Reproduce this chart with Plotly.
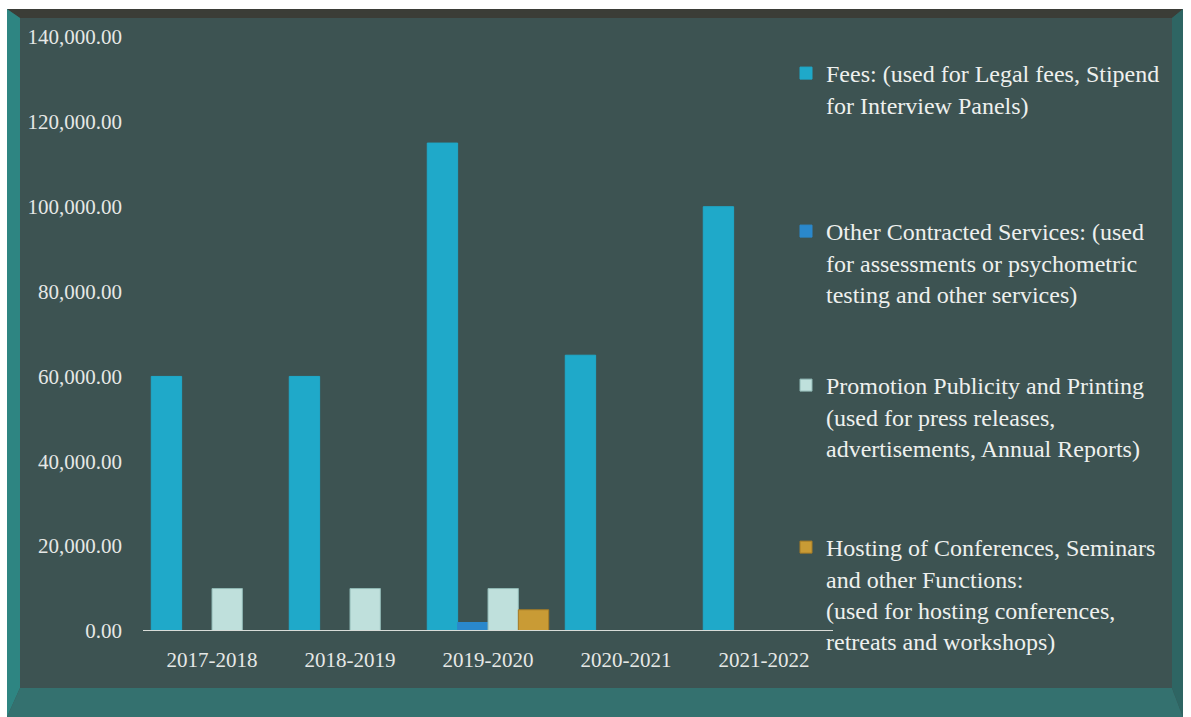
import plotly.graph_objects as go

years = ["2017-2018", "2018-2019", "2019-2020", "2020-2021", "2021-2022"]
fees = [60000, 60000, 115000, 65000, 100000]
other_contracted = [0, 0, 2000, 0, 0]
promotion = [10000, 10000, 10000, 0, 0]
hosting = [0, 0, 5000, 0, 0]

names = [
    "Fees: (used for Legal fees, Stipend<br>for Interview Panels)",
    "Other Contracted Services: (used<br>for assessments or psychometric<br>testing and other services)",
    "Promotion Publicity and Printing<br>(used for press releases,<br>advertisements, Annual Reports)",
    "Hosting of Conferences, Seminars<br>and other Functions:<br>(used for hosting conferences,<br>retreats and workshops)",
]
series = [fees, other_contracted, promotion, hosting]
colors = ["#1fa9c9", "#2a88cc", "#bfe0dc", "#c99b35"]
lines = ["#1fa9c9", "#2a88cc", "#8fb8b4", "#a87d25"]
legend_ids = ["legend", "legend2", "legend3", "legend4"]
legend_tops = [51, 209, 363, 525]

FONT = "Liberation Serif, Times New Roman, serif"
BG = "#3d5352"

fig = go.Figure()
for nm, vals, c, lc, lg in zip(names, series, colors, lines, legend_ids):
    fig.add_trace(go.Bar(
        x=years, y=vals, name=nm, legend=lg,
        marker=dict(color=c, line=dict(color=lc, width=1)),
    ))

W, H = 1191, 717
L, R, T, B = 143, 1191 - 833, 37, 717 - 631

def px(x):
    return (x - L) / (W - L - R)

def py(y):
    return (H - B - y) / (H - T - B)

shapes = []
shapes.append(dict(type="rect", xref="paper", yref="paper", layer="below",
                   x0=px(7), x1=px(1183), y0=py(717), y1=py(9),
                   fillcolor=BG, line=dict(width=0)))
shapes.append(dict(type="path", xref="paper", yref="paper", layer="below",
                   path=f"M {px(7)},{py(9)} L {px(1183)},{py(9)} L {px(1172)},{py(18)} L {px(20)},{py(18)} Z",
                   fillcolor="#3b3d37", line=dict(width=0)))
shapes.append(dict(type="path", xref="paper", yref="paper", layer="below",
                   path=f"M {px(7)},{py(9)} L {px(20)},{py(18)} L {px(20)},{py(688)} L {px(7)},{py(717)} Z",
                   fillcolor="#2e8582", line=dict(width=0)))
shapes.append(dict(type="path", xref="paper", yref="paper", layer="below",
                   path=f"M {px(7)},{py(717)} L {px(20)},{py(688)} L {px(1172)},{py(688)} L {px(1183)},{py(717)} Z",
                   fillcolor="#34716f", line=dict(width=0)))
shapes.append(dict(type="path", xref="paper", yref="paper", layer="below",
                   path=f"M {px(1183)},{py(9)} L {px(1172)},{py(18)} L {px(1172)},{py(688)} L {px(1183)},{py(717)} Z",
                   fillcolor="#2e6563", line=dict(width=0)))
shapes.append(dict(type="line", xref="paper", yref="y", x0=0, x1=1, y0=0, y1=0,
                   line=dict(color="#d8dcd8", width=2)))

legend_common = dict(
    xanchor="left", yanchor="top",
    bgcolor="rgba(0,0,0,0)",
    font=dict(family=FONT, size=24, color="#eef0ee"),
    itemwidth=30,
    valign="top",
)
legends = {}
for lg, top in zip(legend_ids, legend_tops):
    legends[lg] = dict(legend_common, x=px(786), y=py(top))

fig.update_layout(
    width=W, height=H,
    margin=dict(l=L, r=R, t=T, b=B, autoexpand=False),
    paper_bgcolor="white",
    plot_bgcolor="rgba(0,0,0,0)",
    barmode="group",
    bargap=0.12,
    bargroupgap=0,
    font=dict(family=FONT, color="#e6e8e6", size=17),
    shapes=shapes,
    showlegend=True,
    xaxis=dict(
        showgrid=False, showline=False, zeroline=False,
        tickfont=dict(family=FONT, size=21, color="#e6e8e6"),
        ticks="", ticklabelstandoff=14,
    ),
    yaxis=dict(
        range=[0, 140000], dtick=20000,
        tickformat=",.2f",
        showgrid=False, showline=False, zeroline=False,
        tickfont=dict(family=FONT, size=21, color="#e6e8e6"),
        ticks="", ticklabelstandoff=20,
    ),
    **legends,
)

fig.write_html("out.html")
